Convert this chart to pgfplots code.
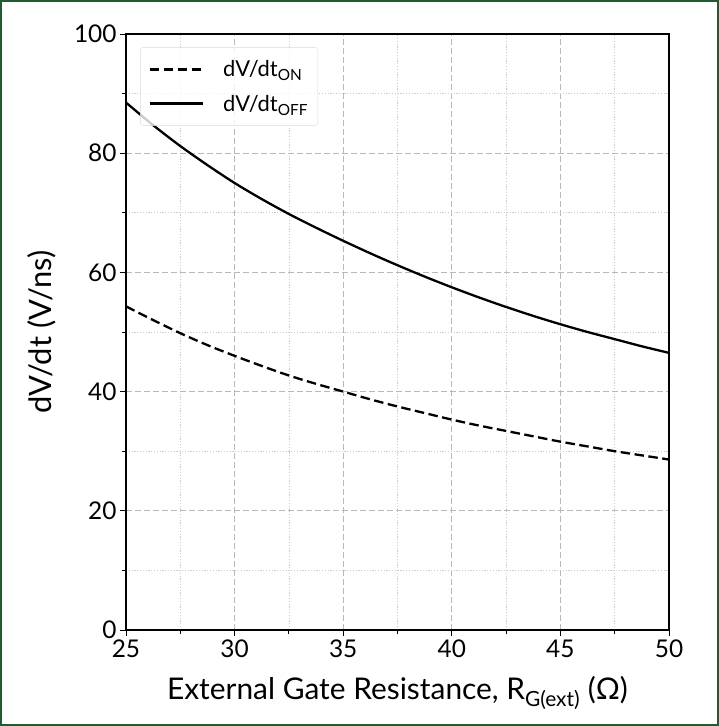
\documentclass[border=0pt]{standalone}
\usepackage{fontspec}
\setmainfont{Lato}
\usepackage{pgfplots}
\pgfplotsset{compat=1.18}
\definecolor{frame}{RGB}{31,92,48}
\begin{document}
\begin{tikzpicture}
\begin{axis}[
  name=ax,
  scale only axis,
  width=543bp, height=596bp,
  xmin=25, xmax=50, ymin=0, ymax=100,
  xtick={25,30,...,50}, ytick={0,20,...,100},
  minor xtick={27.5,32.5,37.5,42.5,47.5},
  minor ytick={10,30,50,70,90},
  tick pos=left, tick align=outside,
  major tick length=6bp, minor tick length=4bp,
  every tick/.style={black, line width=0.9bp},
  axis line style={line width=1.3bp},
  grid=both,
  major grid style={gray!55, line width=0.8bp, dash pattern=on 6bp off 3bp},
  minor grid style={gray!40, line width=0.8bp, dash pattern=on 1.2bp off 1.6bp},
  /pgf/number format/assume math mode=true,
  ticklabel style={font=\fontsize{24.5}{28}\selectfont},
  xlabel={External Gate Resistance, R\textsubscript{G(ext)} (Ω)},
  ylabel={dV/dt (V/ns)},
  xlabel style={font=\fontsize{30}{34}\selectfont, at={(rel axis cs:0.5,0)}, anchor=center, yshift=-63bp},
  ylabel style={font=\fontsize{31}{34}\selectfont, at={(rel axis cs:0,0.5)}, anchor=center, yshift=84bp},
  legend cell align=left,
  legend style={at={(rel axis cs:0.026,0.978)}, anchor=north west,
    draw=gray!30, rounded corners=3bp, fill=white, fill opacity=0.8, draw opacity=1, text opacity=1,
    font=\fontsize{22}{26}\selectfont, inner xsep=8bp, inner ysep=11bp,
    row sep=13bp, /tikz/every odd column/.append style={column sep=17bp}},
  legend image code/.code={\draw[#1, line width=2.8bp, draw opacity=1] (0bp,0bp) -- (53bp,0bp);},
]
\addplot[black, line width=2.3bp, dash pattern=on 9.5bp off 4.5bp, smooth] coordinates {
(25,54.3) (26.25,52.0) (27.5,49.8) (28.75,47.8) (30,46.0) (31.25,44.3)
(32.5,42.7) (33.75,41.3) (35,40.0) (36.25,38.7) (37.5,37.5) (38.75,36.4)
(40,35.3) (41.25,34.3) (42.5,33.4) (43.75,32.5) (45,31.6) (46.25,30.8)
(47.5,30.0) (48.75,29.3) (50,28.6)};
\addlegendentry{dV/dt\textsubscript{ON}}
\addplot[black, line width=2.3bp, smooth] coordinates {
(25,88.5) (26.25,84.7) (27.5,81.2) (28.75,78.0) (30,75.0) (31.25,72.3)
(32.5,69.8) (33.75,67.5) (35,65.3) (36.25,63.2) (37.5,61.2) (38.75,59.3)
(40,57.5) (41.25,55.8) (42.5,54.2) (43.75,52.7) (45,51.3) (46.25,50.0)
(47.5,48.8) (48.75,47.6) (50,46.5)};
\addlegendentry{dV/dt\textsubscript{OFF}}
\end{axis}
\pgfresetboundingbox
\path[use as bounding box] ([shift={(-126bp,-96bp)}]ax.south west) rectangle ([shift={(50bp,34bp)}]ax.north east);
\draw[frame, line width=2.5bp] ([shift={(-124.75bp,-94.75bp)}]ax.south west) rectangle ([shift={(48.75bp,32.75bp)}]ax.north east);
\end{tikzpicture}
\end{document}
